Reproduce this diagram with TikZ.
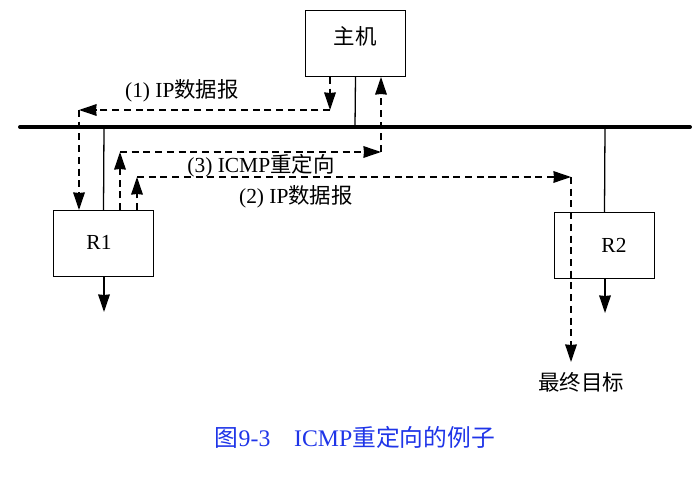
\documentclass[tikz,border=0pt]{standalone}
\usepackage{fontspec}
\setmainfont{Liberation Serif}
\newfontfamily\cjk{Noto Sans CJK SC}
\usetikzlibrary{arrows.meta}
\definecolor{capblue}{HTML}{1F35E8}
\newcommand{\zh}[1]{{\cjk #1}}

\begin{document}
\begin{tikzpicture}[
		x=0.03cm, y=-0.03cm,
		>={Stealth[length=15pt,width=10pt,inset=0.5pt]},	% Pfeilspitzen
		outer sep=0pt,
		inner sep=0pt,
		font=\fontsize{18.3}{20}\selectfont,
		box/.style={draw, line width=1.1pt, rectangle, minimum width=2.98cm, minimum height=1.98cm},
		link/.style={line width=1.1pt},
		flow/.style={line width=1.1pt, dash pattern=on 6pt off 4pt}
	]
	\useasboundingbox (0,0) rectangle (698,478);

	% Knoten
	\node[box] (host) at (355.5,43.5) {};
	\node[box] (rone) at (103.5,243.5) {};
	\node[box] (rtwo) at (604.5,245.5) {};

	\node (hostlabel) at (355,36) {\zh{主机}};
	\node (ronelabel) at (99,242) {R1};
	\node (rtwolabel) at (614,245) {R2};

	% Bus
	\coordinate (busleft) at (20,127);
	\coordinate (busright) at (690,127);
	\draw[line width=3.4pt, line cap=round] (busleft) -- (busright);

	% Verbindungen
	\draw[link] (host.south) -- (355,127);
	\draw[link] (rone.north) -- (104,127);
	\draw[link] (rtwo.north) -- (605,127);
	\coordinate (roneout) at (104,312);
	\coordinate (rtwoout) at (605,313);
	\draw[link,->] (104,277) -- (roneout);
	\draw[link,->] (605,279) -- (rtwoout);

	% Pfad 1: Host nach R1
	\coordinate (aa) at (330,77);
	\coordinate (ab) at (330,110);
	\coordinate (ac) at (79,110);
	\coordinate (ad) at (79,210);
	\draw[flow,->] (aa) -- (ab);
	\draw[flow,->] (ab) -- (ac);
	\draw[flow,->] (ac) -- (ad);
	\node (labelone) at (182,91) {(1) IP\zh{数据报}};

	% Pfad 3: R1 zurueck zum Host
	\coordinate (ca) at (120,210);
	\coordinate (cb) at (120,152);
	\coordinate (cc) at (381,152);
	\coordinate (cd) at (381,77);
	\draw[flow,->] (ca) -- (cb);
	\draw[flow,->] (cb) -- (cc);
	\draw[flow,->] (cc) -- (cd);

	% Pfad 2: R1 zum Ziel
	\coordinate (ba) at (137,210);
	\coordinate (bb) at (137,177);
	\coordinate (bc) at (571,177);
	\coordinate (bd) at (571,362);
	\draw[flow,->] (ba) -- (bb);
	\draw[flow,->] (bb) -- (bc);
	\draw[flow,->] (bc) -- (bd);
	\node (labelthree) at (261,165.5) {(3) ICMP\zh{重定向}};
	\node (labeltwo) at (296,197) {(2) IP\zh{数据报}};

	\node (target) at (581,382) {\zh{最终目标}};

	% Bildunterschrift
	\node[text=capblue, font=\fontsize{20.3}{22}\selectfont] (caption) at (355,437) {\zh{图}9-3\hspace{1em}ICMP\zh{重定向的例子}};
\end{tikzpicture}
\end{document}
